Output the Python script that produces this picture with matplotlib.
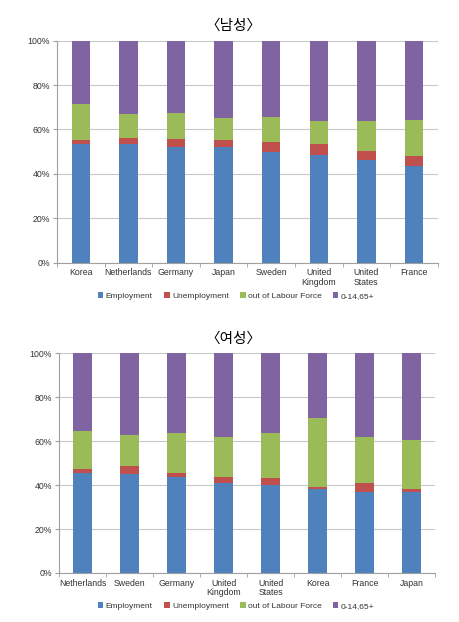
import numpy as np
import matplotlib
matplotlib.use('Agg')
import matplotlib.pyplot as plt
from matplotlib.ticker import FixedLocator, PercentFormatter

plt.rcParams['font.family'] = ['Liberation Sans', 'DejaVu Sans', 'Noto Sans CJK KR']

series = ['Employment', 'Unemployment', 'out of Labour Force', '0-14,65+']
colors = ['#4F81BD', '#C0504D', '#9BBB59', '#8064A2']

# 남성
male_countries = ['Korea', 'Netherlands', 'Germany', 'Japan', 'Sweden',
                  'United\nKingdom', 'United\nStates', 'France']
male_emp = [53.5, 53.5, 52.3, 52.3, 50.0, 48.5, 46.2, 43.7]
male_unemp = [1.9, 2.5, 3.4, 2.8, 4.4, 4.8, 4.1, 4.5]
male_olf = [15.9, 10.8, 11.6, 10.1, 11.4, 10.5, 13.5, 16.1]

# 여성
female_countries = ['Netherlands', 'Sweden', 'Germany', 'United\nKingdom',
                    'United\nStates', 'Korea', 'France', 'Japan']
female_emp = [45.4, 44.9, 43.6, 40.8, 39.9, 38.2, 36.9, 37.0]
female_unemp = [1.9, 4.0, 2.1, 3.1, 3.5, 1.1, 4.2, 1.2]
female_olf = [17.3, 14.1, 17.9, 17.9, 20.5, 31.4, 20.8, 22.3]


def draw_panel(fig, rect, title, title_y, legend_y, countries, emp, unemp, olf):
    ax = fig.add_axes(rect)
    emp = np.array(emp)
    unemp = np.array(unemp)
    olf = np.array(olf)
    rest = 100 - emp - unemp - olf
    x = np.arange(len(countries))
    bottom = np.zeros(len(countries))
    handles = []
    for vals, c, name in zip([emp, unemp, olf, rest], colors, series):
        b = ax.bar(x, vals, 0.385, bottom=bottom, color=c, label=name, zorder=2)
        handles.append(b)
        bottom = bottom + vals

    ax.set_ylim(0, 100)
    ax.set_xlim(-0.5, len(countries) - 0.5)
    ax.yaxis.set_major_locator(FixedLocator([0, 20, 40, 60, 80, 100]))
    ax.yaxis.set_major_formatter(PercentFormatter(decimals=0))
    ax.grid(axis='y', color='#C8C8C8', linewidth=0.8, zorder=0)
    ax.set_xticks(x)
    ax.set_xticklabels(countries, fontsize=6.3, color='#333333', linespacing=1.05)
    ax.xaxis.set_minor_locator(FixedLocator(np.arange(-0.5, len(countries), 1.0)))
    ax.tick_params(axis='x', which='major', length=0, pad=4)
    ax.tick_params(axis='x', which='minor', length=3, color='#A0A0A0', direction='out')
    ax.tick_params(axis='y', labelsize=6.3, labelcolor='#333333', length=3,
                   color='#A0A0A0', pad=2)
    for s in ['top', 'right']:
        ax.spines[s].set_visible(False)
    for s in ['left', 'bottom']:
        ax.spines[s].set_color('#A0A0A0')
        ax.spines[s].set_linewidth(0.8)

    fig.text(0.507, title_y, title, ha='center', va='center', fontsize=10.5,
             family=['Noto Sans CJK KR', 'DejaVu Sans'])
    fig.legend(handles=handles, labels=series, loc='center',
               bbox_to_anchor=(0.513, legend_y), ncol=4, frameon=False,
               fontsize=6.0, handlelength=0.7, handleheight=0.7,
               handletextpad=0.3, columnspacing=1.3, labelcolor='#333333')
    return ax


fig = plt.figure(figsize=(4.6, 6.22), dpi=100)
fig.patch.set_facecolor('white')

draw_panel(fig, [0.1239, 0.5777, 0.828, 0.3569], '〈남성〉', 0.958, 0.524,
           male_countries, male_emp, male_unemp, male_olf)
draw_panel(fig, [0.1283, 0.0788, 0.8174, 0.3532], '〈여성〉', 0.456, 0.026,
           female_countries, female_emp, female_unemp, female_olf)

fig.savefig('out.png', dpi=100)
